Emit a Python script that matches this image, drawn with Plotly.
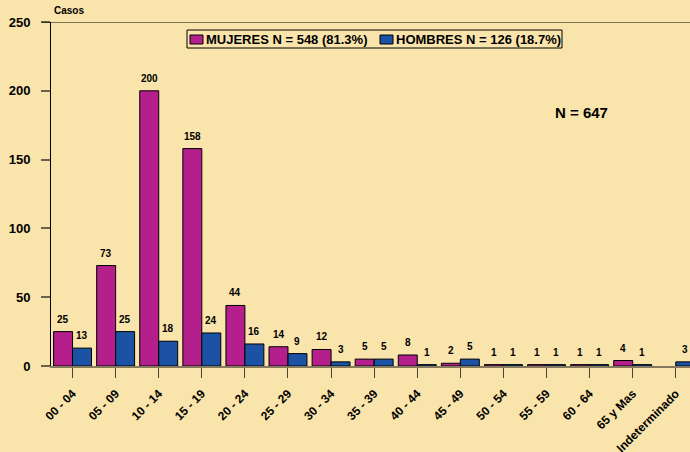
import plotly.graph_objects as go

# Age groups and case counts by sex
categories = ["00 - 04", "05 - 09", "10 - 14", "15 - 19", "20 - 24", "25 - 29",
              "30 - 34", "35 - 39", "40 - 44", "45 - 49", "50 - 54", "55 - 59",
              "60 - 64", "65 y Mas", "Indeterminado"]
mujeres = [25, 73, 200, 158, 44, 14, 12, 5, 8, 2, 1, 1, 1, 4, 0]
hombres = [13, 25, 18, 24, 16, 9, 3, 5, 1, 5, 1, 1, 1, 1, 3]
y_ticks = [0, 50, 100, 150, 200, 250]
total_label = "N = 647"

BG = "#F9E4AB"
MAGENTA = "#B41F8B"
BLUE = "#1B52A3"
FONT = "Arial, 'Liberation Sans', sans-serif"

W, H = 690, 452
ML, MR, MT, MB = 51, 0, 22, 86
PW, PH = W - ML - MR, H - MT - MB
X_RANGE = [-0.5, 14.33]
BARGAP = 0.12
# horizontal offset (px) of each bar's centre from its category centre
CAT_PX = PW / (X_RANGE[1] - X_RANGE[0])
BAR_OFFSET = CAT_PX * (1 - BARGAP) / 4


def fx(px):
    return (px - ML) / PW


def fy(py):
    return 1 - (py - MT) / PH


total_m = sum(mujeres)
total_h = sum(hombres)
total = total_m + total_h
label_m = f"MUJERES N = {total_m} ({100 * total_m / total:.1f}%)"
label_h = f"HOMBRES N = {total_h} ({100 * total_h / total:.1f}%)"

fig = go.Figure()
annotations = []
for name, vals, color, side in [(label_m, mujeres, MAGENTA, -1), (label_h, hombres, BLUE, 1)]:
    fig.add_trace(go.Bar(
        x=categories, y=vals, name=name,
        marker=dict(color=color,
                    line=dict(color="black", width=[1 if v > 0 else 0 for v in vals])),
    ))
    # value labels above each bar
    for cat, v in zip(categories, vals):
        if v > 0:
            annotations.append(dict(
                x=cat, y=v, xref="x", yref="y", text=str(v), showarrow=False,
                xanchor="center", yanchor="bottom", xshift=side * BAR_OFFSET, yshift=5,
                font=dict(family=FONT, size=10, color="black", weight="bold"),
            ))

shapes = [
    # top frame line at the axis maximum
    dict(type="line", xref="paper", yref="y", x0=fx(42), x1=1, y0=250, y1=250,
         line=dict(color="black", width=1)),
    # legend box
    dict(type="rect", xref="paper", yref="paper", x0=fx(187), x1=fx(562),
         y0=fy(48), y1=fy(30), line=dict(color="black", width=1), fillcolor=BG),
    dict(type="rect", xref="paper", yref="paper", x0=fx(190), x1=fx(203),
         y0=fy(44), y1=fy(35), line=dict(color="black", width=1), fillcolor=MAGENTA),
    dict(type="rect", xref="paper", yref="paper", x0=fx(380), x1=fx(393),
         y0=fy(44), y1=fy(35), line=dict(color="black", width=1), fillcolor=BLUE),
]

annotations += [
    dict(text=label_m, xref="paper", yref="paper", x=fx(204), y=fy(39.5),
         xanchor="left", yanchor="middle", showarrow=False,
         font=dict(family=FONT, size=13, color="black", weight="bold")),
    dict(text=label_h, xref="paper", yref="paper", x=fx(394), y=fy(39.5),
         xanchor="left", yanchor="middle", showarrow=False,
         font=dict(family=FONT, size=13, color="black", weight="bold")),
    dict(text="Casos", xref="paper", yref="paper", x=fx(52), y=fy(11),
         xanchor="left", yanchor="middle", showarrow=False,
         font=dict(family=FONT, size=10, color="black", weight="bold")),
    dict(text=total_label, xref="paper", yref="paper", x=fx(581), y=fy(112),
         xanchor="center", yanchor="middle", showarrow=False,
         font=dict(family=FONT, size=15, color="black", weight="bold")),
]

fig.update_layout(
    width=W, height=H,
    margin=dict(l=ML, r=MR, t=MT, b=MB, pad=0),
    paper_bgcolor=BG, plot_bgcolor=BG,
    barmode="group", bargap=BARGAP, bargroupgap=0,
    showlegend=False,
    shapes=shapes, annotations=annotations,
    xaxis=dict(
        range=X_RANGE, tickangle=-45, automargin=False,
        showline=True, linecolor="#857A5E", linewidth=2,
        ticks="outside", ticklen=10, tickcolor="#4A4336", tickwidth=1,
        ticklabelstandoff=4,
        showgrid=False, zeroline=False,
        tickfont=dict(family=FONT, size=12, color="black", weight="bold"),
    ),
    yaxis=dict(
        range=[0, 250], tickvals=y_ticks, automargin=False,
        showline=True, linecolor="black", linewidth=1,
        ticks="outside", ticklen=9, tickcolor="#6B604A", tickwidth=1.5,
        ticklabelstandoff=8,
        showgrid=False, zeroline=False,
        tickfont=dict(family=FONT, size=13, color="black", weight="bold"),
    ),
)

fig.write_html("out.html")
